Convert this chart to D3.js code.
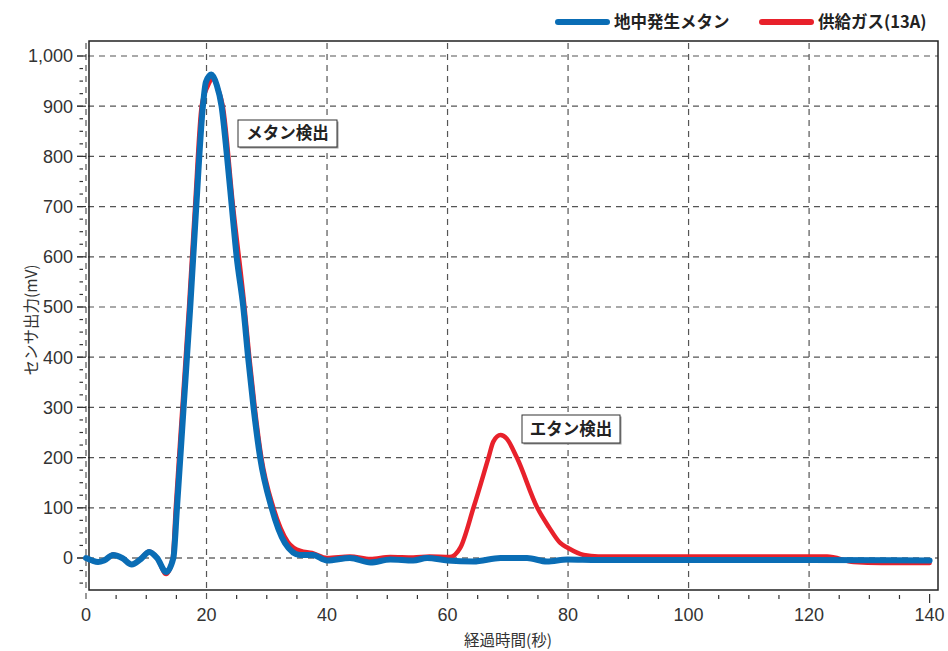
<!DOCTYPE html>
<html>
<head>
<meta charset="utf-8">
<script src="https://cdn.jsdelivr.net/npm/d3@7"></script>
<style>
  body { margin: 0; background: #fff; }
  svg { display: block; }
</style>
</head>
<body>
<script>
// values
var methaneTime = [0, 1, 2, 3, 4.5, 6, 7.6, 9, 10.5, 11.8, 13.3, 14.5, 15.1, 16.2, 17.3, 18.3, 19.4, 19.9, 20.8, 21.7, 22.5, 23.4, 24.2, 25, 26.1, 26.9, 27.8, 28.9, 30.8, 33, 35.5, 37.6, 40, 43.8, 47.2, 50.5, 54.3, 56.6, 60, 64.3, 68.8, 73.2, 76.5, 79.9, 85, 100, 120, 140];
var methaneVal  = [0, -5, -8, -5, 6, 0, -13, -3, 12, 0, -28, 0, 100, 300, 500, 700, 900, 948, 963, 942, 900, 800, 700, 600, 500, 400, 300, 200, 100, 30, 6, 6, -5, 0, -9, -3, -5, 0, -5, -7, 0, 0, -7, -3, -4, -4, -4, -5];

var gasTime = [0, 1, 2, 3, 4.5, 6, 7.6, 9, 10.5, 11.8, 13.3, 14.4, 14.9, 16.0, 17.1, 18.1, 19.2, 20.2, 21.1, 21.9, 22.7, 24.4, 26.3, 27.1, 28.0, 29.1, 31.1, 33.5, 35.6, 37.5, 40, 43.8, 47.2, 50.5, 54.3, 57, 60.4, 62.1, 64.3, 66.8, 67.6, 68.8, 69.8, 71.5, 74.9, 76.8, 78.7, 80, 82.6, 85, 100, 123, 127.4, 132, 140];
var gasVal  = [0, -5, -8, -5, 7, 0, -13, -2, 13, 0, -32, 0, 100, 300, 500, 700, 900, 940, 955, 935, 900, 700, 500, 400, 300, 200, 100, 32, 14, 10, 0, 3, -2, 2, 1, 3, 2, 20, 100, 200, 232, 245, 238, 200, 100, 62, 30, 20, 6, 3, 3, 3, -8, -10, -10];

var xTicks = [0, 20, 40, 60, 80, 100, 120, 140];
var yTicks = [0, 100, 200, 300, 400, 500, 600, 700, 800, 900, 1000];
var seriesNames = ["地中発生メタン", "供給ガス(13A)"];
var notes = ["メタン検出", "エタン検出"];

var W = 948, H = 651;
var boxL = 89, boxR = 938, boxT = 41, boxB = 590;
var blue = "#0a6db5", red = "#e8212b";
var numFont = "'Liberation Sans', Arial, sans-serif";
var jpFont = "'Noto Sans CJK JP', 'Noto Sans', sans-serif";

var x = d3.scaleLinear().domain([0, 140]).range([86, 929.6]);
var y = d3.scaleLinear().domain([0, 1000]).range([558, 56]);

var svg = d3.select("body").append("svg")
    .attr("width", W)
    .attr("height", H);

// grid lines (dashed), they also act as the ticks outside the box
var grid = svg.append("g");
grid.selectAll(".hg").data(yTicks).enter().append("line")
    .attr("x1", 77).attr("x2", boxR)
    .attr("y1", function(d) { return y(d); })
    .attr("y2", function(d) { return y(d); })
    .attr("stroke", function(d) { return d == 0 ? "#222" : "#555"; })
    .attr("stroke-width", 1.2)
    .attr("stroke-dasharray", "6,5");
grid.selectAll(".vg").data(xTicks.filter(function(d) { return d < 140; })).enter().append("line")
    .attr("x1", function(d) { return x(d); })
    .attr("x2", function(d) { return x(d); })
    .attr("y1", 43).attr("y2", 603)
    .attr("stroke", "#555")
    .attr("stroke-width", 1.2)
    .attr("stroke-dasharray", "6,5");

// solid major ticks
grid.selectAll(".yt").data(yTicks).enter().append("line")
    .attr("x1", 77).attr("x2", 86)
    .attr("y1", function(d) { return y(d); })
    .attr("y2", function(d) { return y(d); })
    .attr("stroke", "#333").attr("stroke-width", 1.2);
grid.append("line")
    .attr("x1", x(140)).attr("x2", x(140))
    .attr("y1", 594).attr("y2", 603)
    .attr("stroke", "#333").attr("stroke-width", 1.2);

// minor ticks
var yMinor = d3.range(-50, 1001, 25).filter(function(d) { return d % 100 != 0; });
grid.selectAll(".ym").data(yMinor).enter().append("line")
    .attr("x1", 79.5).attr("x2", 83)
    .attr("y1", function(d) { return y(d); })
    .attr("y2", function(d) { return y(d); })
    .attr("stroke", "#333").attr("stroke-width", 1.2);
var xMinor = d3.range(5, 140, 5).filter(function(d) { return d % 20 != 0; });
grid.selectAll(".xm").data(xMinor).enter().append("line")
    .attr("x1", function(d) { return x(d); })
    .attr("x2", function(d) { return x(d); })
    .attr("y1", 595).attr("y2", 599)
    .attr("stroke", "#333").attr("stroke-width", 1.2);

// frame
svg.append("rect")
    .attr("x", boxL).attr("y", boxT)
    .attr("width", boxR - boxL).attr("height", boxB - boxT)
    .attr("fill", "none").attr("stroke", "#222").attr("stroke-width", 1.5);

// tick labels
svg.append("g").selectAll("text").data(yTicks).enter().append("text")
    .attr("x", 73)
    .attr("y", function(d) { return y(d); })
    .attr("dy", "0.36em")
    .attr("text-anchor", "end")
    .attr("font-family", numFont)
    .attr("font-size", 18)
    .attr("fill", "#333")
    .text(function(d) { return d3.format(",")(d); });
svg.append("g").selectAll("text").data(xTicks).enter().append("text")
    .attr("x", function(d) { return x(d); })
    .attr("y", 615)
    .attr("dy", "0.36em")
    .attr("text-anchor", "middle")
    .attr("font-family", numFont)
    .attr("font-size", 18)
    .attr("fill", "#333")
    .text(function(d) { return d; });

// axis titles
svg.append("text")
    .attr("x", 508).attr("y", 640)
    .attr("dy", "0.36em")
    .attr("text-anchor", "middle")
    .attr("font-family", jpFont)
    .attr("font-size", 15.5)
    .attr("fill", "#333")
    .text("経過時間(秒)");
svg.append("text")
    .attr("transform", "translate(31,320) rotate(-90)")
    .attr("dy", "0.36em")
    .attr("text-anchor", "middle")
    .attr("font-family", jpFont)
    .attr("font-size", 15.5)
    .attr("fill", "#333")
    .text("センサ出力(mV)");

// lines
var line = d3.line()
    .x(function(d) { return x(d[0]); })
    .y(function(d) { return y(d[1]); })
    .curve(d3.curveMonotoneX);

var gasData = gasTime.map(function(t, i) { return [t, gasVal[i]]; });
var methaneData = methaneTime.map(function(t, i) { return [t, methaneVal[i]]; });

svg.append("path")
    .datum(gasData)
    .attr("d", line)
    .attr("fill", "none")
    .attr("stroke", red)
    .attr("stroke-width", 4.5)
    .attr("stroke-linejoin", "round")
    .attr("stroke-linecap", "round");
svg.append("path")
    .datum(methaneData)
    .attr("d", line)
    .attr("fill", "none")
    .attr("stroke", blue)
    .attr("stroke-width", 6)
    .attr("stroke-linejoin", "round")
    .attr("stroke-linecap", "round");

// annotation boxes
var noteBoxes = [[238, 120, 99, 27], [522, 415, 98, 28]];
noteBoxes.forEach(function(b, i) {
  svg.append("rect")
      .attr("x", b[0] + 1.5).attr("y", b[1] + 1.5)
      .attr("width", b[2]).attr("height", b[3])
      .attr("fill", "#999");
  svg.append("rect")
      .attr("x", b[0]).attr("y", b[1])
      .attr("width", b[2]).attr("height", b[3])
      .attr("fill", "#fff").attr("stroke", "#333").attr("stroke-width", 1);
  svg.append("text")
      .attr("x", b[0] + b[2] / 2).attr("y", b[1] + b[3] / 2)
      .attr("dy", "0.36em")
      .attr("text-anchor", "middle")
      .attr("font-family", jpFont)
      .attr("font-weight", "bold")
      .attr("font-size", 16.5)
      .attr("fill", "#222")
      .text(notes[i]);
});

// legend
var legend = svg.append("g");
var legendX = [558, 762];
seriesNames.forEach(function(name, i) {
  legend.append("line")
      .attr("x1", legendX[i]).attr("x2", legendX[i] + 49)
      .attr("y1", 22).attr("y2", 22)
      .attr("stroke", i == 0 ? blue : red)
      .attr("stroke-width", 6)
      .attr("stroke-linecap", "round");
  legend.append("text")
      .attr("x", legendX[i] + 56).attr("y", 22)
      .attr("dy", "0.36em")
      .attr("font-family", jpFont)
      .attr("font-weight", "bold")
      .attr("font-size", 16.5)
      .attr("fill", "#222")
      .text(name);
});
</script>
</body>
</html>
